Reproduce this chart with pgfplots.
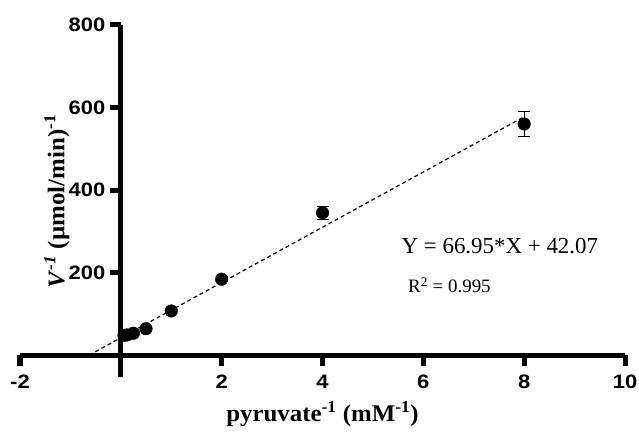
\documentclass[border=0pt]{standalone}
\usepackage{fontspec}
\setmainfont{Liberation Serif}
\setsansfont{Liberation Sans}
\newfontfamily\ticksf[FakeStretch=1.13]{Liberation Sans}
\newfontfamily\labserif[FakeStretch=1.04]{Liberation Serif}
\usepackage{pgfplots}
\pgfplotsset{compat=1.18}
\begin{document}
\begin{tikzpicture}
\begin{axis}[
  scale only axis,
  width=605bp, height=352bp,
  xmin=-2, xmax=10, ymin=-53, ymax=800,
  axis lines=middle,
  axis line style={-, line width=5bp},
  xtick={-2,2,4,6,8,10},
  xticklabels={-2,2,4,6,8,10},
  ytick={200,400,600,800},
  yticklabels={200,400,600,800},
  tick align=outside,
  major tick length=11bp,
  tick style={line width=5bp, black},
  xticklabel style={font=\fontsize{19.5}{20}\selectfont\ticksf\bfseries, yshift=-5bp},
  yticklabel style={font=\fontsize{19.5}{20}\selectfont\ticksf\bfseries, xshift=-1bp},
  clip=false,
]
\addplot[black, dashed, line width=1.2bp, dash pattern=on 4bp off 3bp] coordinates {(-0.6284,0) (8,577.67)};
\addplot[only marks, mark=*, mark size=6.3bp, black,
  error bars/.cd, y dir=both, y explicit,
  error bar style={line width=1.3bp},
  error mark options={rotate=90, mark size=6bp, line width=1.3bp}]
  coordinates {
  (0.0625,48) +- (0,2)
  (0.125,49) +- (0,2)
  (0.25,53) +- (0,2)
  (0.5,64) +- (0,3)
  (1,107) +- (0,4)
  (2,184) +- (0,5)
  (4,345) +- (0,16)
  (8,560) +- (0,30)
  };
\node[anchor=west, font=\fontsize{23}{23}\selectfont] at (axis cs:5.5,264) {Y = 66.95*X + 42.07};
\node[anchor=west, font=\fontsize{19}{19}\selectfont] at (axis cs:5.63,170) {R\textsuperscript{2} = 0.995};
\node[rotate=90, font=\fontsize{24}{24}\selectfont\labserif\bfseries] at (axis cs:-1.27,372) {\textit{V}\textsuperscript{\textit{-1}} (µmol/min)\textsuperscript{-1}};
\node[font=\fontsize{24}{24}\selectfont\labserif\bfseries] at (axis cs:4.0,-142) {pyruvate\textsuperscript{-1} (mM\textsuperscript{-1})};
\end{axis}
\pgfresetboundingbox
\path (-20bp,-62bp) rectangle (619bp,377bp);
\end{tikzpicture}
\end{document}
